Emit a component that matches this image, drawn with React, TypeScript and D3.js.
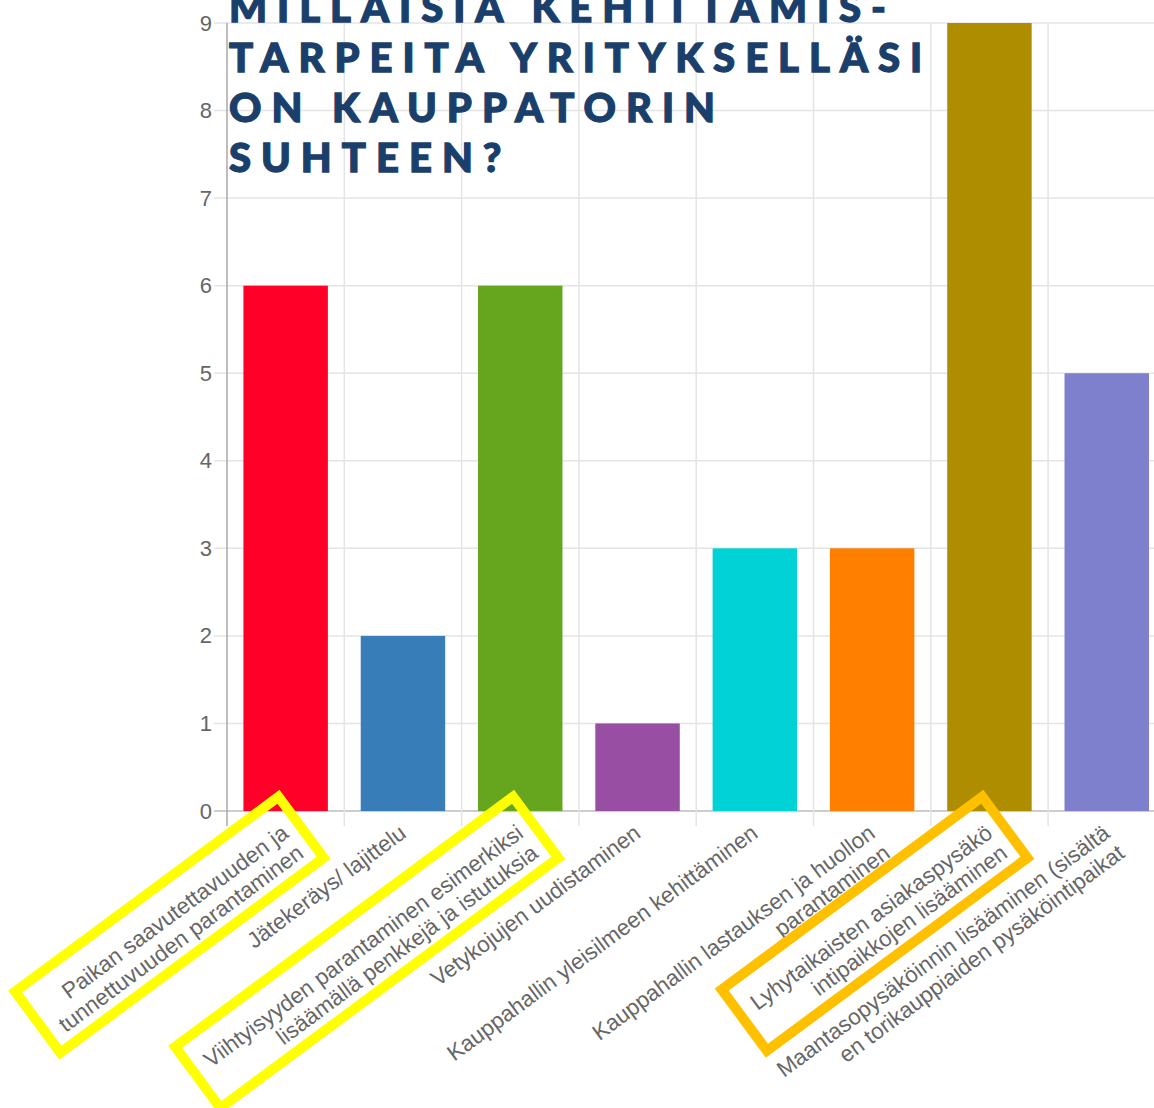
import React, { useEffect, useRef } from "react"
import * as d3 from "d3"

// category labels, already split into the lines they show on the axis
const categories: string[][] = [
  ["Paikan saavutettavuuden ja", "tunnettuvuuden parantaminen"],
  ["Jätekeräys/ lajittelu"],
  ["Viihtyisyyden parantaminen esimerkiksi", "lisäämällä penkkejä ja istutuksia"],
  ["Vetykojujen uudistaminen"],
  ["Kauppahallin yleisilmeen kehittäminen"],
  ["Kauppahallin lastauksen ja huollon", "parantaminen"],
  ["Lyhytaikaisten asiakaspysäkö", "intipaikkojen lisääminen"],
  ["Maantasopysäköinnin lisääminen (sisältä", "en torikauppiaiden pysäköintipaikat"],
]
const values = [6, 2, 6, 1, 3, 3, 9, 5]
const barColors = ["#ff0029", "#377eb8", "#66a61e", "#984ea3", "#00d2d5", "#ff7f00", "#af8d00", "#7f80cd"]
const yTicks = [0, 1, 2, 3, 4, 5, 6, 7, 8, 9]
const titleLines = ["MILLAISIA KEHITTÄMIS-", "TARPEITA YRITYKSELLÄSI", "ON KAUPPATORIN", "SUHTEEN?"]
const highlightIndex = [0, 2, 6]
const highlightColors = ["#ffff00", "#ffff00", "#ffc000"]

const W = 1154
const H = 1108

export default function App() {
  const svgRef = useRef<SVGSVGElement>(null)

  useEffect(() => {
    if (!svgRef.current) return
    const root = d3.select(svgRef.current)
    root.selectAll("*").remove()

    const left = 227
    const top = 23
    const bottom = 811
    const keys = categories.map((_, i) => String(i))

    const x = d3.scaleBand().domain(keys).range([left, 1165.4]).paddingInner(0.28).paddingOuter(0.14)
    const y = d3.scaleLinear().domain([0, 9]).range([bottom, top])
    const step = x.step()
    const edge = (i: number) => (x(String(i)) || 0) - step * 0.14

    const font = "'Liberation Sans', Arial, Helvetica, sans-serif"

    // horizontal grid
    root
      .append("g")
      .selectAll("line")
      .data(yTicks)
      .enter()
      .append("line")
      .attr("x1", left - 13)
      .attr("x2", W)
      .attr("y1", d => y(d))
      .attr("y2", d => y(d))
      .attr("stroke", d => (d === 0 ? "#bdbdbd" : "#e4e4e4"))
      .attr("stroke-width", 1.5)

    // vertical grid at category edges
    root
      .append("g")
      .selectAll("line")
      .data(d3.range(categories.length + 1))
      .enter()
      .append("line")
      .attr("x1", d => edge(d))
      .attr("x2", d => edge(d))
      .attr("y1", top)
      .attr("y2", bottom + 15)
      .attr("stroke", d => (d === 0 ? "#a8a8a8" : "#e4e4e4"))
      .attr("stroke-width", 1.5)

    // y labels
    root
      .append("g")
      .selectAll("text")
      .data(yTicks)
      .enter()
      .append("text")
      .attr("x", left - 15)
      .attr("y", d => y(d))
      .attr("text-anchor", "end")
      .attr("dominant-baseline", "central")
      .attr("fill", "#666")
      .attr("font-family", font)
      .attr("font-size", "22px")
      .text(d => d)

    // bars
    root
      .append("g")
      .selectAll("rect")
      .data(values)
      .enter()
      .append("rect")
      .attr("x", (d, i) => x(String(i)) || 0)
      .attr("y", d => y(d))
      .attr("width", x.bandwidth())
      .attr("height", d => bottom - y(d))
      .attr("fill", (d, i) => barColors[i])

    // rotated x labels
    const lineH = 25
    const labels = root
      .append("g")
      .selectAll("g")
      .data(categories)
      .enter()
      .append("g")
      .attr("transform", (d, i) => `translate(${(x(String(i)) || 0) + x.bandwidth() / 2},${bottom + 19}) rotate(-36.5)`)

    labels.each(function (lines, i) {
      const g = d3.select(this)
      const texts = g
        .selectAll("text")
        .data(lines)
        .enter()
        .append("text")
        .attr("x", 0)
        .attr("y", (d, j) => j * lineH)
        .attr("text-anchor", "end")
        .attr("dominant-baseline", "central")
        .attr("fill", "#666")
        .attr("font-family", font)
        .attr("font-size", "22.4px")
        .text(d => d)

      // highlight frame around some labels
      const k = highlightIndex.indexOf(i)
      if (k >= 0) {
        let maxW = 0
        texts.each(function () {
          maxW = Math.max(maxW, (this as SVGTextElement).getComputedTextLength())
        })
        const padL = 16
        const padR = 14
        g.append("rect")
          .attr("x", -(maxW + padL))
          .attr("y", -31)
          .attr("width", maxW + padL + padR)
          .attr("height", (lines.length - 1) * lineH + 20 + 31)
          .attr("fill", "none")
          .attr("stroke", highlightColors[k])
          .attr("stroke-width", 10)
      }
    })

    // title
    root
      .append("g")
      .selectAll("text")
      .data(titleLines)
      .enter()
      .append("text")
      .attr("x", 229)
      .attr("y", (d, i) => 22 + i * 50)
      .attr("fill", "#1b3f6b")
      .attr("stroke", "#1b3f6b")
      .attr("stroke-width", 1.3)
      .attr("font-family", "Lato, 'Open Sans', sans-serif")
      .attr("font-weight", 900)
      .attr("font-size", "40px")
      .attr("letter-spacing", "10px")
      .text(d => d)
  }, [])

  return (
    <svg
      ref={svgRef}
      width={W}
      height={H}
      style={{ position: "absolute", left: 0, top: 0, background: "#fff" }}
    />
  )
}
